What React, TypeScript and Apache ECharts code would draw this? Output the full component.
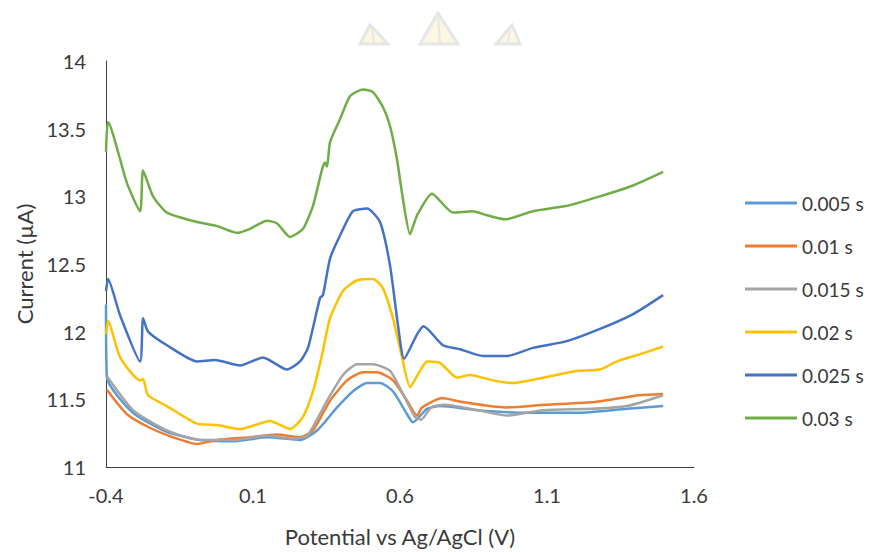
import React, { useEffect, useRef } from "react";
import * as echarts from "echarts";

const seriesNames = ["0.005 s", "0.01 s", "0.015 s", "0.02 s", "0.025 s", "0.03 s"];
const seriesColors = ["#5B9BD5", "#ED7D31", "#A5A5A5", "#FFC000", "#4472C4", "#70AD47"];

const xTicks = [-0.4, 0.1, 0.6, 1.1, 1.6];
const yTicks = [11, 11.5, 12, 12.5, 13, 13.5, 14];

// 0.005 s
const potential005 = [-0.4, -0.397, -0.308, -0.193, -0.08, 0.032, 0.148, 0.26, 0.318, 0.386, 0.44, 0.488, 0.532, 0.576, 0.624, 0.644, 0.692, 0.736, 0.862, 1.032, 1.202, 1.372, 1.495];
const current005 = [12.2, 11.66, 11.4, 11.26, 11.2, 11.19, 11.22, 11.2, 11.27, 11.44, 11.56, 11.62, 11.62, 11.56, 11.39, 11.33, 11.43, 11.45, 11.42, 11.4, 11.4, 11.43, 11.45];

// 0.01 s
const potential01 = [-0.397, -0.329, -0.251, -0.172, -0.09, -0.022, 0.09, 0.182, 0.26, 0.304, 0.362, 0.42, 0.474, 0.522, 0.576, 0.624, 0.658, 0.675, 0.743, 0.811, 0.957, 1.093, 1.263, 1.413, 1.495];
const current01 = [11.57, 11.39, 11.29, 11.22, 11.17, 11.2, 11.22, 11.24, 11.22, 11.27, 11.49, 11.64, 11.7, 11.7, 11.64, 11.49, 11.38, 11.44, 11.51, 11.48, 11.44, 11.46, 11.48, 11.53, 11.54];

// 0.015 s
const potential015 = [-0.397, -0.308, -0.193, -0.08, 0.032, 0.148, 0.236, 0.284, 0.352, 0.406, 0.454, 0.508, 0.566, 0.61, 0.651, 0.672, 0.706, 0.75, 0.865, 0.964, 1.086, 1.256, 1.372, 1.495];
const current015 = [11.67, 11.42, 11.27, 11.2, 11.2, 11.23, 11.21, 11.23, 11.49, 11.68, 11.76, 11.76, 11.71, 11.54, 11.37, 11.35, 11.44, 11.46, 11.42, 11.38, 11.42, 11.43, 11.45, 11.53];

// 0.02 s
const potential02 = [-0.4, -0.393, -0.352, -0.284, -0.274, -0.257, -0.193, -0.09, -0.022, 0.056, 0.158, 0.226, 0.27, 0.304, 0.335, 0.362, 0.406, 0.454, 0.508, 0.542, 0.576, 0.607, 0.634, 0.668, 0.692, 0.736, 0.794, 0.838, 0.916, 0.984, 1.086, 1.2, 1.28, 1.338, 1.426, 1.495];
const current02 = [11.98, 12.08, 11.81, 11.64, 11.65, 11.53, 11.45, 11.32, 11.31, 11.28, 11.34, 11.28, 11.37, 11.56, 11.83, 12.1, 12.3, 12.38, 12.39, 12.32, 12.1, 11.81, 11.59, 11.71, 11.78, 11.77, 11.66, 11.68, 11.64, 11.62, 11.66, 11.71, 11.72, 11.78, 11.84, 11.89];

// 0.025 s
const potential025 = [-0.4, -0.393, -0.352, -0.284, -0.274, -0.257, -0.193, -0.09, -0.029, 0.056, 0.134, 0.216, 0.26, 0.287, 0.328, 0.338, 0.362, 0.396, 0.44, 0.488, 0.532, 0.566, 0.593, 0.614, 0.658, 0.68, 0.746, 0.804, 0.882, 0.964, 1.052, 1.168, 1.28, 1.393, 1.495];
const current025 = [12.3, 12.39, 12.12, 11.78, 12.1, 12.0, 11.9, 11.78, 11.79, 11.75, 11.81, 11.72, 11.78, 11.88, 12.25, 12.27, 12.54, 12.71, 12.89, 12.91, 12.81, 12.49, 12.05, 11.8, 11.98, 12.04, 11.9, 11.87, 11.82, 11.82, 11.88, 11.93, 12.02, 12.13, 12.27];

// 0.03 s
const potential03 = [-0.4, -0.393, -0.329, -0.284, -0.274, -0.24, -0.193, -0.09, -0.022, 0.046, 0.09, 0.148, 0.182, 0.226, 0.27, 0.304, 0.335, 0.345, 0.352, 0.362, 0.396, 0.43, 0.474, 0.508, 0.542, 0.566, 0.59, 0.61, 0.634, 0.658, 0.709, 0.78, 0.848, 0.896, 0.957, 1.052, 1.168, 1.28, 1.393, 1.495];
const current03 = [13.33, 13.55, 13.1, 12.89, 13.19, 13.0, 12.88, 12.81, 12.78, 12.73, 12.76, 12.82, 12.8, 12.7, 12.76, 12.93, 13.2, 13.25, 13.22, 13.4, 13.57, 13.74, 13.79, 13.77, 13.66, 13.52, 13.27, 12.98, 12.72, 12.86, 13.02, 12.88, 12.89, 12.86, 12.83, 12.89, 12.93, 13.0, 13.08, 13.18];

const potentials = [potential005, potential01, potential015, potential02, potential025, potential03];
const currents = [current005, current01, current015, current02, current025, current03];

const FONT = "Lato, 'Noto Sans', sans-serif";
const TEXT_COLOR = "#3a3a3a";

export default function App() {
  const ref = useRef<HTMLDivElement>(null);

  useEffect(() => {
    if (!ref.current) return;
    const chart = echarts.init(ref.current, null, { renderer: "svg" });

    const series = seriesNames.map((name, i) => ({
      name,
      type: "line",
      data: potentials[i].map((x, j) => [x, currents[i][j]]),
      symbol: "none",
      showSymbol: false,
      smooth: 0.2,
      lineStyle: { color: seriesColors[i], width: 2.5 },
      itemStyle: { color: seriesColors[i] },
      z: 2 + i,
    }));

    const wm = "#e6e6e6";
    const wmFill = "#fbf7e2";

    chart.setOption({
      animation: false,
      backgroundColor: "#ffffff",
      textStyle: { fontFamily: FONT },
      grid: { left: 106, right: 178, top: 61, bottom: 82, containLabel: false },
      xAxis: {
        type: "value",
        min: xTicks[0],
        max: xTicks[xTicks.length - 1],
        interval: 0.5,
        name: "Potential vs Ag/AgCl (V)",
        nameLocation: "middle",
        nameGap: 58,
        nameTextStyle: { fontSize: 22, color: TEXT_COLOR, fontFamily: FONT },
        axisLine: { show: true, onZero: false, lineStyle: { color: "#404040", width: 1 } },
        axisTick: { show: false },
        splitLine: { show: false },
        axisLabel: {
          fontSize: 20,
          color: TEXT_COLOR,
          margin: 18,
          fontFamily: FONT,
          formatter: (v: number) => (Math.round(v * 10) / 10).toString(),
        },
      },
      yAxis: {
        type: "value",
        min: yTicks[0],
        max: yTicks[yTicks.length - 1],
        interval: 0.5,
        name: "Current (µA)",
        nameLocation: "middle",
        nameGap: 71,
        nameTextStyle: { fontSize: 22, color: TEXT_COLOR, fontFamily: FONT },
        axisLine: { show: true, onZero: false, lineStyle: { color: "#404040", width: 1 } },
        axisTick: { show: false },
        splitLine: { show: false },
        axisLabel: {
          fontSize: 20,
          color: TEXT_COLOR,
          margin: 20,
          fontFamily: FONT,
          formatter: (v: number) => (Math.round(v * 10) / 10).toString(),
        },
      },
      legend: {
        show: true,
        orient: "vertical",
        left: 740,
        top: 187,
        itemWidth: 52,
        itemHeight: 3,
        itemGap: 21,
        icon: "rect",
        textStyle: { fontSize: 19, color: TEXT_COLOR, lineHeight: 22, fontFamily: FONT },
        data: seriesNames,
      },
      graphic: [
        { type: "polygon", shape: { points: [[370, 25], [360, 44], [388, 44]] }, style: { fill: wmFill, stroke: wm, lineWidth: 3 }, silent: true },
        { type: "line", shape: { x1: 372, y1: 27, x2: 374, y2: 44 }, style: { stroke: wm, lineWidth: 2 }, silent: true },
        { type: "polygon", shape: { points: [[438, 13], [420, 44], [458, 44]] }, style: { fill: wmFill, stroke: wm, lineWidth: 3 }, silent: true },
        { type: "line", shape: { x1: 438, y1: 15, x2: 440, y2: 44 }, style: { stroke: wm, lineWidth: 2 }, silent: true },
        { type: "polygon", shape: { points: [[512, 25], [496, 44], [520, 44]] }, style: { fill: wmFill, stroke: wm, lineWidth: 3 }, silent: true },
        { type: "line", shape: { x1: 510, y1: 27, x2: 508, y2: 44 }, style: { stroke: wm, lineWidth: 2 }, silent: true },
      ],
      series,
    });

    return () => chart.dispose();
  }, []);

  return <div ref={ref} style={{ width: 872, height: 552, position: "absolute", left: 0, top: 0 }} />;
}
